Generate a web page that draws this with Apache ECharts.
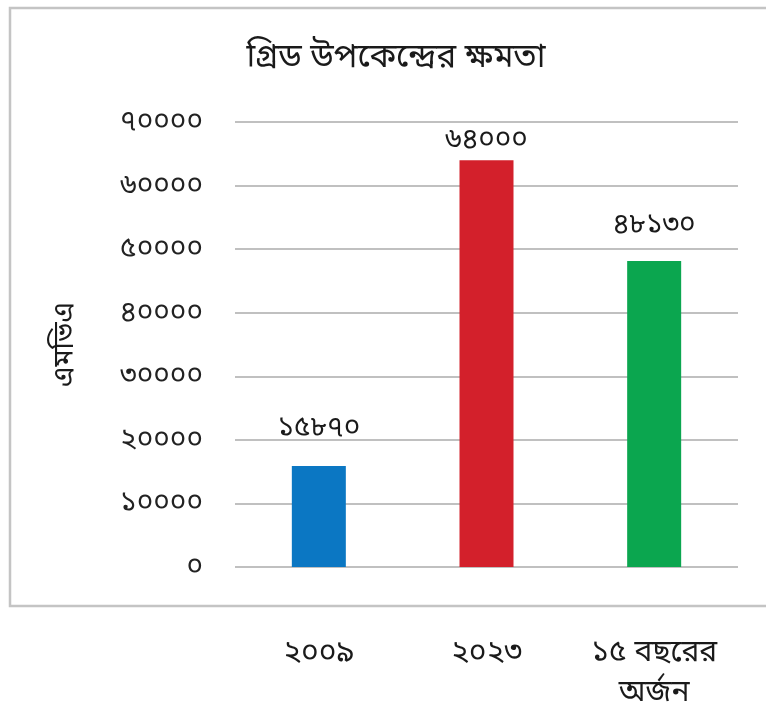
<!DOCTYPE html>
<html>
<head>
<meta charset="utf-8">
<script src="https://cdn.jsdelivr.net/npm/echarts@6/dist/echarts.min.js"></script>
<style>
  html, body { margin: 0; padding: 0; background: #fff; }
  #chart { width: 766px; height: 704px; }
</style>
</head>
<body>
<div id="chart"></div>
<script>
// Grid substation capacity (MVA)
const categories = ['২০০৯', '২০২৩', '১৫ বছরের\nঅর্জন'];
const capacity = [15870, 64000, 48130];
const barColors = ['#0b77c3', '#d3202b', '#0ba64f'];
const labelGaps = [24, 6, 22];
const yTicks = [0, 10000, 20000, 30000, 40000, 50000, 60000, 70000];

const bnDigits = '০১২৩৪৫৬৭৮৯';
function toBengali(n) {
  return String(n).replace(/[0-9]/g, d => bnDigits[+d]);
}

const FONT = '"Noto Sans", "Noto Sans Bengali", "Lohit Bengali", "FreeSans", sans-serif';

const chart = echarts.init(document.getElementById('chart'), null, { renderer: 'canvas' });
chart.setOption({
  backgroundColor: '#ffffff',
  animation: false,
  graphic: [{
    type: 'rect',
    shape: { x: 10, y: 8, width: 780, height: 598 },
    style: { fill: 'none', stroke: '#c4c4c4', lineWidth: 2.5 },
    silent: true,
    z: -1
  }],
  title: {
    text: 'গ্রিড উপকেন্দ্রের ক্ষমতা',
    left: 391,
    top: 36,
    textAlign: 'center',
    textStyle: { fontFamily: FONT, fontSize: 33, fontWeight: 'normal', color: '#1a1a1a' }
  },
  grid: { left: 235, right: 28, top: 122, bottom: 137, outerBoundsMode: 'none' },
  xAxis: {
    type: 'category',
    data: categories,
    axisLine: { show: false },
    axisTick: { show: false },
    axisLabel: {
      margin: 65,
      fontFamily: FONT,
      fontSize: 30,
      color: '#1a1a1a',
      lineHeight: 40
    }
  },
  yAxis: {
    type: 'value',
    min: yTicks[0],
    max: yTicks[yTicks.length - 1],
    interval: 10000,
    name: 'এমভিএ',
    nameLocation: 'middle',
    nameGap: 156,
    nameRotate: 90,
    nameTextStyle: { fontFamily: FONT, fontSize: 28, color: '#1a1a1a' },
    axisLine: { show: false },
    axisTick: { show: false },
    axisLabel: {
      margin: 32,
      fontFamily: FONT,
      fontSize: 28,
      color: '#222',
      formatter: v => toBengali(v)
    },
    splitLine: { lineStyle: { color: '#c0c0c0', width: 2 } }
  },
  series: [{
    type: 'bar',
    barWidth: 54,
    data: capacity.map((v, i) => ({
      value: v,
      itemStyle: { color: barColors[i] },
      label: { distance: labelGaps[i] }
    })),
    label: {
      show: true,
      position: 'top',
      fontFamily: FONT,
      fontSize: 28,
      color: '#1a1a1a',
      formatter: p => toBengali(p.value)
    }
  }]
});
</script>
</body>
</html>
